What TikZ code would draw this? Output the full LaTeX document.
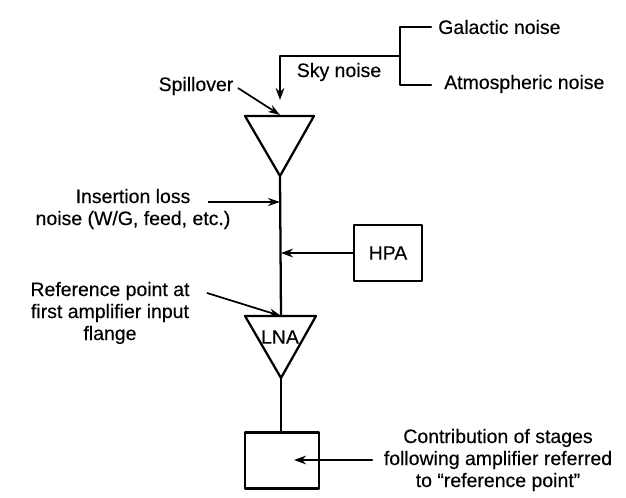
\documentclass[tikz,border=0pt]{standalone}
\usepackage{fontspec}
\setmainfont[FakeBold=0.3]{Liberation Sans}
\usetikzlibrary{arrows.meta}
\tikzset{
  wire/.style={draw=black, line width=1.7pt, line cap=round, line join=round},
  arrowline/.style={wire, -{Stealth[length=9pt,width=6.5pt]}},
  thinarrow/.style={draw=black, line width=1.3pt, -{Stealth[length=9pt,width=6pt]}},
  lab/.style={inner sep=0pt, align=center, font=\fontsize{14.6}{16.5}\selectfont, text=black},
  blockbox/.style={wire, rectangle, inner sep=0pt, minimum width=51pt, minimum height=42pt},
  tri/.style={wire, fill=white}
}
\begin{document}
\begin{tikzpicture}[x=0.75pt,y=-0.75pt]
\useasboundingbox (0,0) rectangle (626,498);
% labels
\node[lab,anchor=west] (gal) at (438,27) {Galactic noise};
\node[lab,anchor=west] (atm) at (444,84) {Atmospheric noise};
\node[lab] (sky) at (339,72) {Sky noise};
\node[lab] (spill) at (196,86) {Spillover};
\node[lab] (ins) at (133,209) {Insertion loss\\noise (W/G, feed, etc.)};
\node[lab] (ref) at (110,313) {Reference point at\\first amplifier input\\flange};
\node[lab] (con) at (498,460) {Contribution of stages\\following amplifier referred\\to ``reference point''};
% coordinates
\coordinate (galend) at (431,27);
\coordinate (atmend) at (431,85);
\coordinate (brt) at (400,27);
\coordinate (brm) at (400,56);
\coordinate (brb) at (400,85);
\coordinate (skyc) at (280,56);
\coordinate (skytip) at (280,100);
\coordinate (t1l) at (245,116);
\coordinate (t1r) at (314,116);
\coordinate (t1a) at (280,176);
\coordinate (t2l) at (245,316);
\coordinate (t2r) at (316,316);
\coordinate (t2a) at (281,378);
\coordinate (t2t) at (281,316);
\coordinate (t1t) at (280,115);
\coordinate (junH) at (281,253);
\coordinate (junI) at (280,202);
\coordinate (insS) at (208,202);
\coordinate (refS) at (207,293);
\coordinate (spillS) at (238,88);
\coordinate (conS) at (372,460);
\coordinate (conT) at (294,460);
% blocks
\draw[tri] (t1l) -- (t1r) -- (t1a) -- cycle;
\draw[tri] (t2l) -- (t2r) -- (t2a) -- cycle;
\node[lab] (lna) at (280,337) {LNA};
\node[blockbox, minimum width=51pt] (hpa) at (388,253) {};
\node[lab] (hpat) at (hpa.center) {HPA};
\node[blockbox, minimum width=55pt] (out) at (282,460.5) {};
% wires
\draw[wire] (galend) -- (brt) -- (brb) -- (atmend);
\draw[arrowline] (brm) -- (skyc) -- (skytip);
\draw[thinarrow] (spillS) -- (t1t);
\draw[wire] (t1a) -- (t2t);
\draw[wire] (t2a) -- (out.north -| t2a);
\draw[thinarrow] (insS) -- (junI);
\draw[arrowline] (hpa.west) -- (junH);
\draw[thinarrow] (refS) -- (t2t);
\draw[arrowline] (conS) -- (conT);
\end{tikzpicture}
\end{document}
